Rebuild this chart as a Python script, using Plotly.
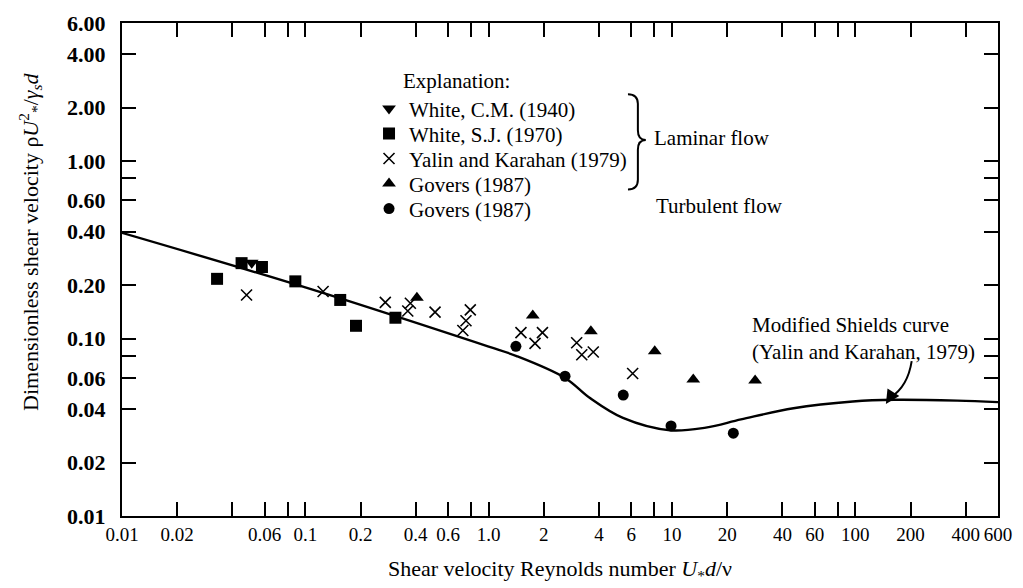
import plotly.graph_objects as go

# ---------------- data ----------------
white_cm_x = [0.051]
white_cm_y = [0.267]

white_sj_x = [0.033, 0.0449, 0.058, 0.0882, 0.155, 0.189, 0.31]
white_sj_y = [0.217, 0.266, 0.253, 0.210, 0.165, 0.118, 0.131]

yalin_x = [0.0478, 0.125, 0.273, 0.362, 0.374, 0.51, 0.723, 0.752, 0.794,
           1.5, 1.965, 1.79, 3.02, 3.22, 3.72, 6.1]
yalin_y = [0.176, 0.184, 0.160, 0.143, 0.158, 0.141, 0.111, 0.126, 0.145,
           0.108, 0.108, 0.094, 0.0947, 0.081, 0.084, 0.0635]

govers_lam_x = [0.406, 1.74, 3.61, 8.05, 13.06, 28.4]
govers_lam_y = [0.170, 0.135, 0.110, 0.0847, 0.0587, 0.058]

govers_turb_x = [1.408, 2.61, 5.42, 9.88, 21.6]
govers_turb_y = [0.0904, 0.0613, 0.048, 0.0322, 0.0293]

shields_x = [0.01, 0.1, 1.0, 1.42, 2.61, 3.57, 5.4, 9.76, 15.3, 23.8, 46, 96.8, 163, 360, 600]
shields_y = [0.394, 0.194, 0.0900, 0.0797, 0.060, 0.0462, 0.0357, 0.0304, 0.0315,
             0.035, 0.0405, 0.0442, 0.0452, 0.0447, 0.0438]

x_tickvals = [0.01, 0.02, 0.04, 0.06, 0.08, 0.1, 0.2, 0.4, 0.6, 0.8, 1, 2, 4, 6, 8,
              10, 20, 40, 60, 80, 100, 200, 400, 600]
x_ticktext = ["0.01", "0.02", "", "0.06", "", "0.1", "0.2", "0.4", "0.6", "", "1.0",
              "2", "4", "6", "", "10", "20", "40", "60", "", "100", "200", "400", "600"]
y_tickvals = [0.01, 0.02, 0.04, 0.06, 0.08, 0.1, 0.2, 0.4, 0.6, 0.8, 1, 2, 4, 6]
y_ticktext = ["0.01", "0.02", "0.04", "0.06", "", "0.10", "0.20", "0.40", "0.60", "",
              "1.00", "2.00", "4.00", "6.00"]

# ---------------- layout helpers ----------------
W, H = 1023, 588
L, R, T, B = 122, 18, 11, 71
PW, PH = W - L - R, H - T - B
FONT = "Liberation Serif"
TXT = 21


def px(x):
    return (x - L) / PW


def py(y):
    return (H - B - y) / PH


def path(cmds):
    out = []
    for c in cmds:
        if isinstance(c, str):
            out.append(c)
        else:
            out.append(f"{px(c[0]):.5f},{py(c[1]):.5f}")
    return " ".join(out)


fig = go.Figure()

fig.add_trace(go.Scatter(x=shields_x, y=shields_y, mode="lines", showlegend=False,
                         line=dict(color="black", width=2.4, shape="spline", smoothing=1.0),
                         hoverinfo="skip"))

mk = dict(color="black")
series = [
    (white_cm_x, white_cm_y, "White, C.M. (1940)", dict(symbol="triangle-down", size=12, **mk)),
    (white_sj_x, white_sj_y, "White, S.J. (1970)", dict(symbol="square", size=12, **mk)),
    (yalin_x, yalin_y, "Yalin and Karahan (1979)",
     dict(symbol="x-thin", size=11, line=dict(color="black", width=1.6), color="black")),
    (govers_lam_x, govers_lam_y, "Govers (1987)", dict(symbol="triangle-up", size=12, **mk)),
    (govers_turb_x, govers_turb_y, "Govers (1987)", dict(symbol="circle", size=11, **mk)),
]
legend_rows = [99, 124.7, 150.4, 176.1, 201.8]
legend_ids = ["legend", "legend2", "legend3", "legend4", "legend5"]

legend_layout = {}
for (xs, ys, name, marker), lid, row in zip(series, legend_ids, legend_rows):
    fig.add_trace(go.Scatter(x=xs, y=ys, mode="markers", name=name, marker=marker,
                             legend=lid, showlegend=True))
    legend_layout[lid] = dict(x=px(371), y=py(row), xanchor="left", yanchor="middle",
                              bgcolor="rgba(0,0,0,0)", borderwidth=0, itemwidth=30,
                              font=dict(family=FONT, size=TXT, color="black"))

axis_common = dict(
    type="log", showgrid=False, zeroline=False,
    showline=True, linecolor="black", linewidth=2, mirror="ticks",
    ticks="inside", ticklen=14, tickwidth=2, tickcolor="black",
)

fig.update_xaxes(**axis_common, range=[-2, 2.77815], tickvals=x_tickvals, ticktext=x_ticktext,
                 tickfont=dict(family=FONT, size=19, color="black"),
                 title=dict(text="Shear velocity Reynolds number <i>U</i><sub>*</sub><i>d</i>/ν",
                            font=dict(family=FONT, size=22, color="black"), standoff=17))
fig.update_yaxes(**axis_common, range=[-2, 0.77815], tickvals=y_tickvals, ticktext=y_ticktext,
                 ticklabelstandoff=10,
                 tickfont=dict(family=FONT, size=22, color="black", weight="bold"))

fig.update_layout(
    width=W, height=H,
    margin=dict(l=L, r=R, t=T, b=B),
    paper_bgcolor="white", plot_bgcolor="white",
    font=dict(family=FONT, size=TXT, color="black"),
    showlegend=True,
    **legend_layout,
)

ann = []
ann.append(dict(text="Dimensionless shear velocity ρ<i>U</i><sup>2</sup><sub>*</sub>/<i>γ<sub>s</sub>d</i>",
                x=px(29), y=py(236), xref="paper", yref="paper", textangle=-90,
                xanchor="center", yanchor="middle", showarrow=False,
                font=dict(family=FONT, size=22, color="black")))
ann.append(dict(text="Explanation:", x=px(403), y=py(71), xref="paper", yref="paper",
                xanchor="left", yanchor="middle", showarrow=False,
                font=dict(family=FONT, size=TXT, color="black")))
ann.append(dict(text="Laminar flow", x=px(656), y=py(129), xref="paper", yref="paper",
                xanchor="left", yanchor="middle", showarrow=False,
                font=dict(family=FONT, size=TXT, color="black")))
ann.append(dict(text="Turbulent flow", x=px(658), y=py(199), xref="paper", yref="paper",
                xanchor="left", yanchor="middle", showarrow=False,
                font=dict(family=FONT, size=TXT, color="black")))
ann.append(dict(text="Modified Shields curve<br>(Yalin and Karahan, 1979)",
                x=px(755), y=py(335), xref="paper", yref="paper", align="left",
                xanchor="left", yanchor="middle", showarrow=False,
                font=dict(family=FONT, size=TXT, color="black")))
# arrow head
ann.append(dict(text="", x=px(892), y=py(402), xref="paper", yref="paper",
                ax=7, ay=-11, showarrow=True, arrowhead=2, arrowsize=1.4,
                arrowwidth=2, arrowcolor="black"))
fig.update_layout(annotations=ann)

shapes = []
# curved arrow shaft
shapes.append(dict(type="path", xref="paper", yref="paper",
                   path=path(["M", (918, 358), "Q", (914, 384), (897, 395)]),
                   line=dict(color="black", width=2)))
# brace
shapes.append(dict(type="path", xref="paper", yref="paper",
                   path=path(["M", (632, 84), "Q", (642, 84), (642, 94), "L", (642, 121),
                              "Q", (642, 131), (650, 131), "Q", (642, 131), (642, 141),
                              "L", (642, 172), "Q", (642, 182), (632, 182)]),
                   line=dict(color="black", width=2)))
fig.update_layout(shapes=shapes)

fig.write_html("out.html", config={"displayModeBar": False},
               post_script="document.body.style.margin='0';document.body.style.overflow='hidden';")
